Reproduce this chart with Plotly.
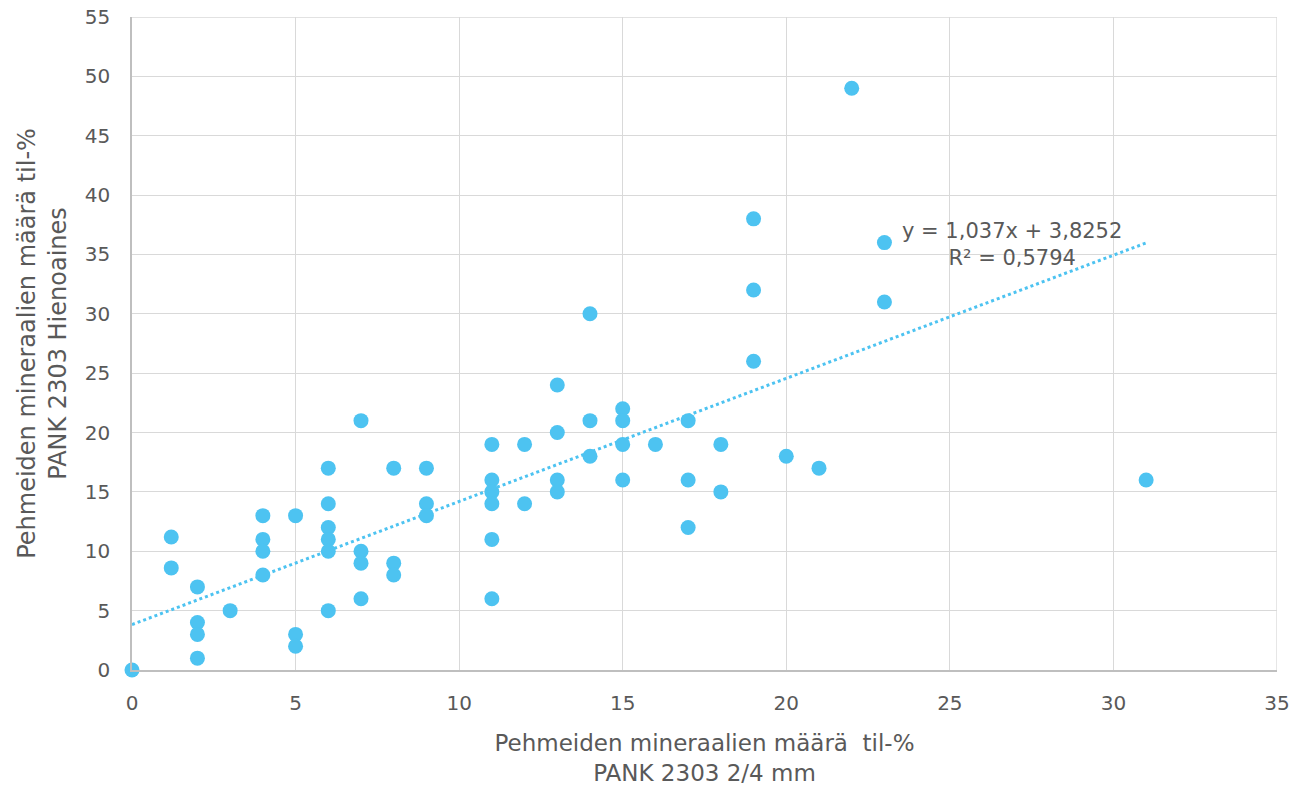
import plotly.graph_objects as go

x_vals = [0, 1.2, 1.2, 2, 2, 2, 2, 3, 4, 4, 4, 4, 5, 5, 5,
          6, 6, 6, 6, 6, 6, 7, 7, 7, 7, 8, 8, 8, 9, 9, 9,
          11, 11, 11, 11, 11, 11, 12, 12, 13, 13, 13, 13, 14, 14, 14,
          15, 15, 15, 15, 16, 17, 17, 17, 18, 18, 19, 19, 19, 20, 21, 22, 23, 23, 31]
y_vals = [0, 11.2, 8.6, 7, 4, 3, 1, 5, 13, 11, 10, 8, 13, 3, 2,
          17, 14, 12, 11, 10, 5, 21, 10, 9, 6, 17, 9, 8, 17, 14, 13,
          19, 16, 15, 14, 11, 6, 19, 14, 24, 20, 16, 15, 30, 21, 18,
          22, 21, 19, 16, 19, 21, 16, 12, 19, 15, 38, 32, 26, 18, 17, 49, 36, 31, 16]

slope = 1.037
intercept = 3.8252
r2_text = "R² = 0,5794"
eq_text = "y = 1,037x + 3,8252"
trend_x = [0, 31]
trend_y = [intercept + slope * v for v in trend_x]

x_title = "Pehmeiden mineraalien määrä  til-%<br>PANK 2303 2/4 mm"
y_title = "Pehmeiden mineraalien määrä til-%<br>PANK 2303 Hienoaines"

color = "#4DC3F1"
font_fam = "Tahoma, DejaVu Sans, sans-serif"
text_col = "#595959"

fig = go.Figure()
fig.add_trace(go.Scatter(
    x=trend_x, y=trend_y, mode="lines",
    line=dict(color=color, width=3, dash="dot"),
    hoverinfo="skip", showlegend=False))
fig.add_trace(go.Scatter(
    x=x_vals, y=y_vals, mode="markers",
    marker=dict(color=color, size=15, line=dict(width=0)),
    cliponaxis=False, showlegend=False))

fig.add_annotation(x=26.9, y=35.8, xref="x", yref="y",
                   text=eq_text + "<br>" + r2_text, showarrow=False,
                   align="center", yanchor="middle",
                   font=dict(family=font_fam, size=21, color=text_col))

fig.update_layout(
    width=1296, height=786,
    margin=dict(l=132, r=19, t=17, b=116),
    paper_bgcolor="white", plot_bgcolor="white",
    font=dict(family=font_fam, size=20, color=text_col),
    xaxis=dict(range=[0, 35], dtick=5, showgrid=True, gridcolor="#D9D9D9", gridwidth=1.3,
               showline=True, linecolor="#BFBFBF", linewidth=1.5, zeroline=False,
               ticks="", tickfont=dict(size=20, color=text_col), ticklabelstandoff=14,
               automargin=False,
               title=dict(text=x_title, font=dict(size=23, color=text_col), standoff=21)),
    yaxis=dict(range=[0, 55], dtick=5, showgrid=True, gridcolor="#D9D9D9", gridwidth=1.3,
               showline=True, linecolor="#BFBFBF", linewidth=1.5, zeroline=False,
               ticks="", tickfont=dict(size=20, color=text_col), ticklabelstandoff=16,
               automargin=False,
               title=dict(text=y_title, font=dict(size=24, color=text_col), standoff=11)),
)
fig.add_shape(type="line", xref="x", yref="y", x0=35, x1=35, y0=0, y1=55,
              line=dict(color="#D9D9D9", width=1.3), layer="below")
fig.add_shape(type="line", xref="x", yref="y", x0=0, x1=35, y0=55, y1=55,
              line=dict(color="#D9D9D9", width=1.3), layer="below")

fig.write_html("out.html")
